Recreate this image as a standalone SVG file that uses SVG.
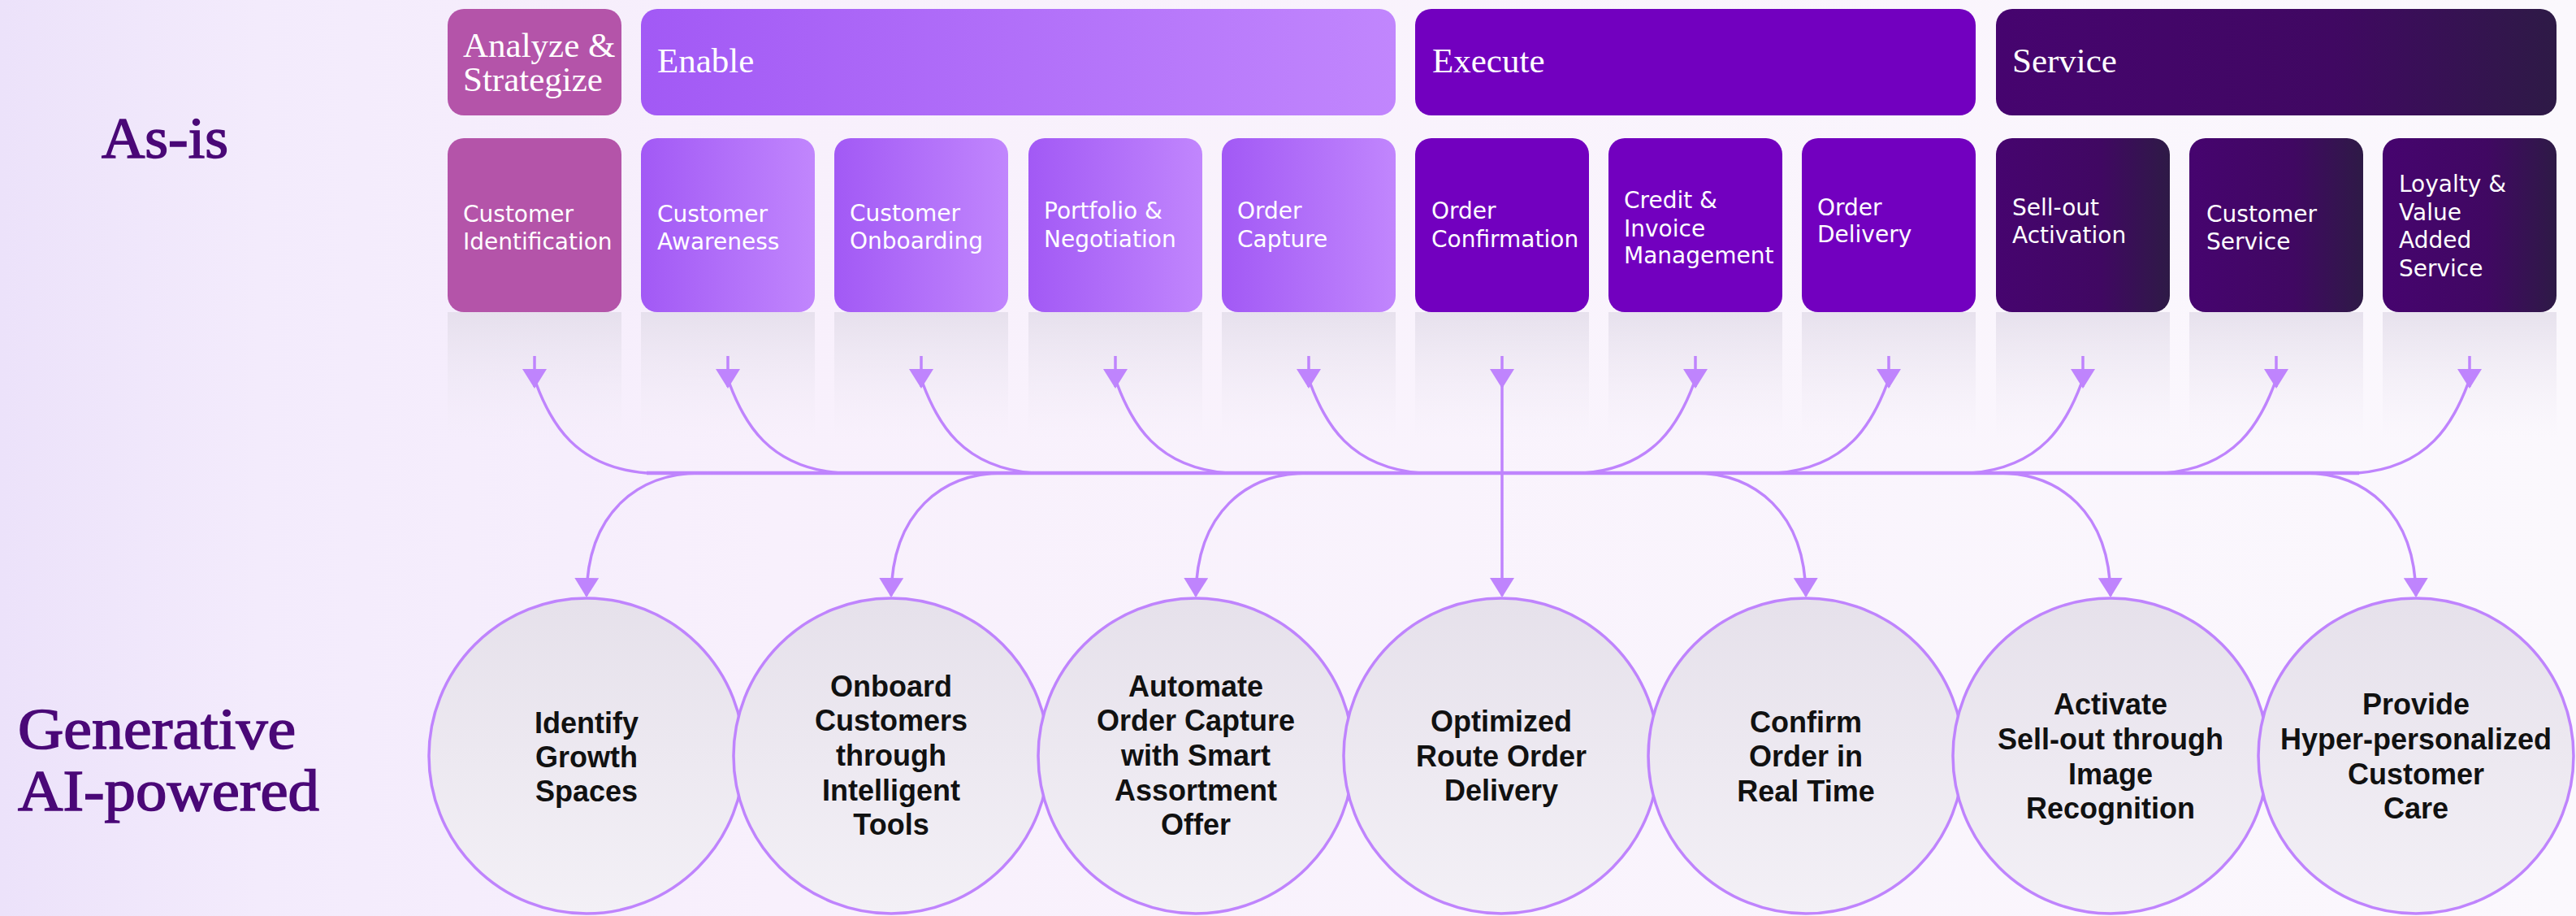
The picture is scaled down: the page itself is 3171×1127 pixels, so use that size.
<svg xmlns="http://www.w3.org/2000/svg" width="3171" height="1127" viewBox="0 0 3171 1127">
<defs>
<linearGradient id="bg" x1="0" y1="0" x2="1" y2="0">
<stop offset="0" stop-color="#ECE2FA"/>
<stop offset="0.1" stop-color="#F3EBFC"/>
<stop offset="0.3" stop-color="#F8F0FC"/>
<stop offset="1" stop-color="#FBF8FD"/>
</linearGradient>
<linearGradient id="gEnable" x1="0" y1="0" x2="1" y2="0">
<stop offset="0" stop-color="#A259F5"/>
<stop offset="1" stop-color="#C186FD"/>
</linearGradient>
<linearGradient id="gService" x1="0" y1="0" x2="1" y2="0">
<stop offset="0" stop-color="#46046F"/>
<stop offset="0.6" stop-color="#400862"/>
<stop offset="1" stop-color="#2E1A46"/>
</linearGradient>
<linearGradient id="refl" x1="0" y1="0" x2="0" y2="1">
<stop offset="0" stop-color="#E2DCE9" stop-opacity="0.8"/>
<stop offset="1" stop-color="#EFEAF4" stop-opacity="0"/>
</linearGradient>
<linearGradient id="gCircle" x1="0" y1="0" x2="0" y2="1">
<stop offset="0" stop-color="#E6E1EB"/>
<stop offset="1" stop-color="#F3F0F6"/>
</linearGradient>
<marker id="arr" viewBox="0 0 24 30" refX="22" refY="15" markerWidth="24" markerHeight="30" markerUnits="userSpaceOnUse" orient="auto">
<path d="M0,0 L24,15 L0,30 Z" fill="#BF84FD"/>
</marker>
<style>
.hdr{font-family:"Liberation Serif","Times New Roman",serif;font-size:43px;fill:#FFFFFF;}
.lbl{font-family:"DejaVu Sans","Noto Sans",sans-serif;font-size:28px;fill:#FFFFFF;}
.ctx{font-family:"Liberation Sans",Arial,sans-serif;font-size:36px;font-weight:bold;fill:#111111;text-anchor:middle;}
.big{font-family:"Liberation Serif","Times New Roman",serif;font-size:72px;fill:#4A0877;stroke:#4A0877;stroke-width:1.6;}
.analyze{fill:#B454A9;}
.enable{fill:url(#gEnable);}
.execute{fill:#7200BF;}
.service{fill:url(#gService);}
.circ{fill:url(#gCircle);stroke:#BF84FD;stroke-width:3.5;}
.con path{fill:none;stroke:#BF84FD;stroke-width:3.5;}
.con path.arrow{marker-end:url(#arr);}
.con path.bus{stroke-width:4.5;}
.rf{fill:url(#refl);}
</style>
</defs>

<rect x="0" y="0" width="3171" height="1127" fill="url(#bg)"/>

<text class="big" x="125" y="194" textLength="156" lengthAdjust="spacingAndGlyphs">As-is</text>
<text class="big" x="22" y="921" textLength="342" lengthAdjust="spacingAndGlyphs">Generative</text>
<text class="big" x="22" y="997" textLength="371" lengthAdjust="spacingAndGlyphs">AI-powered</text>

<g id="reflections">
<rect class="rf" x="551" y="384" width="214" height="155"/>
<rect class="rf" x="789" y="384" width="214" height="155"/>
<rect class="rf" x="1027" y="384" width="214" height="155"/>
<rect class="rf" x="1266" y="384" width="214" height="155"/>
<rect class="rf" x="1504" y="384" width="214" height="155"/>
<rect class="rf" x="1742" y="384" width="214" height="155"/>
<rect class="rf" x="1980" y="384" width="214" height="155"/>
<rect class="rf" x="2218" y="384" width="214" height="155"/>
<rect class="rf" x="2457" y="384" width="214" height="155"/>
<rect class="rf" x="2695" y="384" width="214" height="155"/>
<rect class="rf" x="2933" y="384" width="214" height="155"/>
</g>

<g id="phase-analyze"><rect class="analyze" x="551" y="11" width="214" height="131" rx="20"/><text class="hdr" x="570" y="70">Analyze &amp;</text><text class="hdr" x="570" y="112">Strategize</text></g>
<g id="phase-enable"><rect class="enable" x="789" y="11" width="929" height="131" rx="20"/><text class="hdr" x="809" y="89">Enable</text></g>
<g id="phase-execute"><rect class="execute" x="1742" y="11" width="690" height="131" rx="20"/><text class="hdr" x="1763" y="89">Execute</text></g>
<g id="phase-service"><rect class="service" x="2457" y="11" width="690" height="131" rx="20"/><text class="hdr" x="2477" y="89">Service</text></g>

<g id="customer-identification"><rect class="analyze" x="551" y="170" width="214" height="214" rx="20"/><text class="lbl" x="570" y="273">Customer</text><text class="lbl" x="570" y="307">Identification</text></g>
<g id="customer-awareness"><rect class="enable" x="789" y="170" width="214" height="214" rx="20"/><text class="lbl" x="809" y="273">Customer</text><text class="lbl" x="809" y="307">Awareness</text></g>
<g id="customer-onboarding"><rect class="enable" x="1027" y="170" width="214" height="214" rx="20"/><text class="lbl" x="1046" y="272">Customer</text><text class="lbl" x="1046" y="306">Onboarding</text></g>
<g id="portfolio-negotiation"><rect class="enable" x="1266" y="170" width="214" height="214" rx="20"/><text class="lbl" x="1285" y="269">Portfolio &amp;</text><text class="lbl" x="1285" y="304">Negotiation</text></g>
<g id="order-capture"><rect class="enable" x="1504" y="170" width="214" height="214" rx="20"/><text class="lbl" x="1523" y="269">Order</text><text class="lbl" x="1523" y="304">Capture</text></g>
<g id="order-confirmation"><rect class="execute" x="1742" y="170" width="214" height="214" rx="20"/><text class="lbl" x="1762" y="269">Order</text><text class="lbl" x="1762" y="304">Confirmation</text></g>
<g id="credit-invoice"><rect class="execute" x="1980" y="170" width="214" height="214" rx="20"/><text class="lbl" x="1999" y="256">Credit &amp;</text><text class="lbl" x="1999" y="291">Invoice</text><text class="lbl" x="1999" y="324">Management</text></g>
<g id="order-delivery"><rect class="execute" x="2218" y="170" width="214" height="214" rx="20"/><text class="lbl" x="2237" y="265">Order</text><text class="lbl" x="2237" y="298">Delivery</text></g>
<g id="sell-out-activation"><rect class="service" x="2457" y="170" width="214" height="214" rx="20"/><text class="lbl" x="2477" y="265">Sell-out</text><text class="lbl" x="2477" y="299">Activation</text></g>
<g id="customer-service"><rect class="service" x="2695" y="170" width="214" height="214" rx="20"/><text class="lbl" x="2716" y="273">Customer</text><text class="lbl" x="2716" y="307">Service</text></g>
<g id="loyalty-value"><rect class="service" x="2933" y="170" width="214" height="214" rx="20"/><text class="lbl" x="2953" y="236">Loyalty &amp;</text><text class="lbl" x="2953" y="271">Value</text><text class="lbl" x="2953" y="305">Added</text><text class="lbl" x="2953" y="340">Service</text></g>

<g id="connectors" class="con">
<path class="bus" d="M796 582 H2904"/>
<path class="arrow" d="M658 438 V476"/>
<path d="M660 472 C678 520, 708 575, 796 582"/>
<path class="arrow" d="M896 438 V476"/>
<path d="M898 472 C916 520, 946 575, 1034 582"/>
<path class="arrow" d="M1134 438 V476"/>
<path d="M1136 472 C1154 520, 1184 575, 1272 582"/>
<path class="arrow" d="M1373 438 V476"/>
<path d="M1375 472 C1393 520, 1423 575, 1511 582"/>
<path class="arrow" d="M1611 438 V476"/>
<path d="M1613 472 C1631 520, 1661 575, 1749 582"/>
<path class="arrow" d="M1849 438 V476"/>
<path class="arrow" d="M1849 470 V733"/>
<path class="arrow" d="M2087 438 V476"/>
<path d="M2085 472 C2067 520, 2037 575, 1949 582"/>
<path class="arrow" d="M2325 438 V476"/>
<path d="M2323 472 C2305 520, 2275 575, 2187 582"/>
<path class="arrow" d="M2564 438 V476"/>
<path d="M2562 472 C2544 520, 2514 575, 2426 582"/>
<path class="arrow" d="M2802 438 V476"/>
<path d="M2800 472 C2782 520, 2752 575, 2664 582"/>
<path class="arrow" d="M3040 438 V476"/>
<path d="M3038 472 C3020 520, 2990 575, 2902 582"/>
<path class="arrow" d="M862 582 C786 582, 723 630, 722 733"/>
<path class="arrow" d="M1235 582 C1160 582, 1098 630, 1097 733"/>
<path class="arrow" d="M1610 582 C1535 582, 1473 630, 1472 733"/>
<path class="arrow" d="M2085 582 C2160 582, 2222 630, 2223 733"/>
<path class="arrow" d="M2460 582 C2535 582, 2597 630, 2598 733"/>
<path class="arrow" d="M2836 582 C2911 582, 2973 630, 2974 733"/>
</g>

<g id="identify-growth"><circle class="circ" cx="722" cy="930" r="194"/><text class="ctx" x="722" y="902">Identify</text><text class="ctx" x="722" y="944">Growth</text><text class="ctx" x="722" y="986">Spaces</text></g>
<g id="onboard-customers"><circle class="circ" cx="1097" cy="930" r="194"/><text class="ctx" x="1097" y="857">Onboard</text><text class="ctx" x="1097" y="899">Customers</text><text class="ctx" x="1097" y="942">through</text><text class="ctx" x="1097" y="985">Intelligent</text><text class="ctx" x="1097" y="1027">Tools</text></g>
<g id="automate-order"><circle class="circ" cx="1472" cy="930" r="194"/><text class="ctx" x="1472" y="857">Automate</text><text class="ctx" x="1472" y="899">Order Capture</text><text class="ctx" x="1472" y="942">with Smart</text><text class="ctx" x="1472" y="985">Assortment</text><text class="ctx" x="1472" y="1027">Offer</text></g>
<g id="optimized-route"><circle class="circ" cx="1848" cy="930" r="194"/><text class="ctx" x="1848" y="900">Optimized</text><text class="ctx" x="1848" y="943">Route Order</text><text class="ctx" x="1848" y="985">Delivery</text></g>
<g id="confirm-order"><circle class="circ" cx="2223" cy="930" r="194"/><text class="ctx" x="2223" y="901">Confirm</text><text class="ctx" x="2223" y="943">Order in</text><text class="ctx" x="2223" y="986">Real Time</text></g>
<g id="activate-sellout"><circle class="circ" cx="2598" cy="930" r="194"/><text class="ctx" x="2598" y="879">Activate</text><text class="ctx" x="2598" y="922">Sell-out through</text><text class="ctx" x="2598" y="965">Image</text><text class="ctx" x="2598" y="1007">Recognition</text></g>
<g id="provide-care"><circle class="circ" cx="2974" cy="930" r="194"/><text class="ctx" x="2974" y="879">Provide</text><text class="ctx" x="2974" y="922">Hyper-personalized</text><text class="ctx" x="2974" y="965">Customer</text><text class="ctx" x="2974" y="1007">Care</text></g>
</svg>
